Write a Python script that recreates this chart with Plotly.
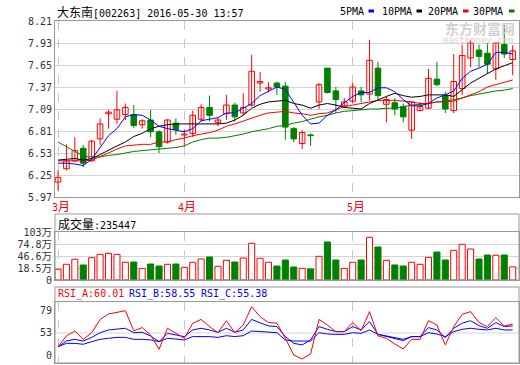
import plotly.graph_objects as go

# ---------------- data ----------------
opens  = [6.16,6.33,6.43,6.59,6.43,6.71,7.03,6.96,7.02,7.02,6.89,6.95,6.80,6.67,6.91,6.76,6.78,6.96,7.11,6.92,
          7.03,7.14,7.04,7.14,7.42,7.345,7.42,7.38,6.84,6.65,6.76,7.18,7.61,7.32,7.13,7.19,7.32,7.28,7.61,7.15,
          7.17,7.12,6.82,7.07,7.10,7.47,7.26,7.07,7.35,7.74,7.84,7.80,7.60,7.91,7.72]
highs  = [6.31,6.64,6.73,6.63,6.70,6.97,7.08,7.32,7.16,7.14,6.96,7.08,6.82,6.96,6.97,6.83,7.07,7.15,7.26,6.98,
          7.27,7.17,7.29,7.78,7.56,7.43,7.44,7.43,6.86,6.82,6.78,7.42,7.61,7.37,7.23,7.42,7.37,7.97,7.69,7.25,
          7.23,7.16,7.18,7.18,7.60,7.69,7.31,7.79,7.91,7.97,7.91,7.93,7.93,8.16,7.90]
lows   = [6.05,6.31,6.42,6.35,6.42,6.63,6.84,6.90,6.95,6.85,6.84,6.73,6.53,6.65,6.76,6.61,6.73,6.93,6.93,6.87,
          6.95,6.93,7.01,7.12,7.31,7.30,7.27,6.70,6.67,6.58,6.62,7.09,7.29,7.04,7.10,7.16,7.18,7.20,7.20,6.92,
          7.01,6.92,6.71,7.06,7.09,7.38,7.04,7.04,7.27,7.62,7.62,7.54,7.46,7.74,7.52]
closes = [6.22,6.43,6.56,6.40,6.68,6.90,7.05,7.08,7.11,6.88,6.94,6.80,6.61,6.95,6.83,6.77,7.01,7.11,7.01,6.95,
          7.14,6.99,7.11,7.57,7.44,7.36,7.37,6.86,6.71,6.79,6.75,7.40,7.30,7.21,7.18,7.37,7.27,7.71,7.26,7.21,
          7.09,6.99,7.18,7.12,7.48,7.40,7.09,7.44,7.77,7.93,7.76,7.66,7.93,7.79,7.83]

ma5  = [6.40,6.40,6.39,6.37,6.45,6.60,6.75,6.84,6.99,7.02,7.01,6.95,6.87,6.84,6.82,6.80,6.84,6.94,6.96,6.98,
        7.04,7.04,7.10,7.16,7.26,7.32,7.37,7.34,7.18,7.01,6.90,6.91,7.01,7.08,7.17,7.25,7.30,7.30,7.36,7.36,
        7.31,7.21,7.13,7.13,7.16,7.23,7.27,7.32,7.48,7.57,7.61,7.66,7.81,7.81,7.79]
ma10 = [6.44,6.45,6.46,6.44,6.46,6.51,6.57,6.62,6.67,6.74,6.78,6.84,6.87,6.89,6.90,6.90,6.90,6.90,6.90,6.90,
        6.91,6.95,7.01,7.10,7.15,7.18,7.19,7.20,7.16,7.14,7.10,7.14,7.16,7.14,7.11,7.10,7.09,7.16,7.21,7.25,
        7.29,7.26,7.24,7.25,7.27,7.27,7.27,7.25,7.33,7.42,7.48,7.54,7.60,7.64,7.68]
ma20 = [6.43,6.43,6.43,6.43,6.44,6.48,6.53,6.58,6.62,6.63,6.64,6.64,6.67,6.67,6.70,6.72,6.75,6.77,6.79,6.82,
        6.87,6.90,6.94,6.98,7.01,7.04,7.05,7.06,7.04,7.03,7.01,7.03,7.04,7.08,7.12,7.14,7.16,7.18,7.20,7.20,
        7.20,7.19,7.18,7.16,7.16,7.18,7.18,7.19,7.23,7.27,7.31,7.37,7.40,7.43,7.46]
ma30 = [6.67,6.61,6.55,6.49,6.48,6.48,6.50,6.51,6.53,6.55,6.56,6.57,6.58,6.59,6.60,6.62,6.67,6.70,6.72,6.72,
        6.73,6.75,6.77,6.80,6.82,6.84,6.87,6.88,6.91,6.93,6.96,6.99,7.01,7.04,7.06,7.07,7.08,7.09,7.09,7.10,
        7.10,7.12,7.14,7.15,7.16,7.18,7.19,7.21,7.23,7.26,7.28,7.30,7.32,7.33,7.35]

# volume in 万 (10k shares)
volumes = [17.8,29.4,41.0,27.8,44.8,52.5,54.9,52.5,34.1,34.7,20.0,30.1,25.4,29.4,30.1,22.4,34.1,41.7,46.4,24.7,
           38.6,34.7,44.0,78.2,43.3,34.1,25.4,39.4,23.1,20.0,18.5,47.9,81.2,39.4,20.0,34.1,39.4,92.2,69.6,38.6,
           27.8,25.4,34.1,29.4,45.6,57.9,39.4,61.9,75.9,65.0,41.7,51.0,50.3,51.0,23.5447]

rsi_a = [42.5,50.8,54.6,48.2,53.3,63.5,67.7,68.7,70.2,54.8,57.2,51.5,40.5,56.7,52.8,49.0,60.5,63.5,58.0,53.3,
         62.5,53.3,59.2,73.3,65.6,61.1,60.6,49.0,36.2,33.1,37.0,63.5,59.2,54.1,54.1,61.1,54.8,69.5,50.8,49.0,
         44.6,40.8,48.2,48.2,62.5,59.2,43.9,58.0,67.4,69.5,61.1,58.0,64.9,58.4,60.01]
rsi_b = [42.5,46.9,48.2,46.9,49.7,53.3,55.4,56.1,56.7,53.3,53.6,50.8,46.4,52.8,51.5,50.3,55.4,56.7,55.4,53.6,
         56.7,53.6,55.4,63.5,60.9,58.5,58.0,50.3,45.1,43.9,47.7,58.0,55.9,54.1,54.1,58.0,55.4,61.8,52.0,50.3,
         49.0,47.2,50.3,50.3,57.2,55.4,49.5,56.7,60.6,62.5,58.7,56.7,61.1,58.0,58.55]
rsi_c = [42.5,45.1,45.1,44.4,46.4,48.2,49.0,49.7,49.7,48.2,48.2,47.7,46.4,49.0,48.4,47.7,50.3,50.3,50.3,49.7,
         51.0,50.3,51.0,54.6,54.1,53.3,53.3,47.7,46.9,46.9,46.9,53.3,52.3,52.0,52.0,53.3,52.8,55.4,52.0,50.8,
         49.7,48.2,50.3,50.3,53.3,52.3,50.3,54.1,55.9,56.7,55.9,55.4,56.7,55.4,55.38]

price_ticks = [5.97, 6.25, 6.53, 6.81, 7.09, 7.37, 7.65, 7.93, 8.21]
vol_floor = -7.1            # bottom edge of the volume panel (labelled "0")
vol_top = 104.5
vol_ticks = [vol_floor, 18.5, 46.6, 74.8, 103]
vol_tick_text = ["0", "18.5万", "46.6万", "74.8万", "103万"]
rsi_tick_vals = [35.39, 53.07, 70.75]
rsi_tick_text = ["0", "53", "79"]
month_idx = [0, 15, 35]
month_labels = ["3月", "4月", "5月"]
title_text = "大东南[002263] 2016-05-30 13:57"
legend_names = ["5PMA", "10PMA", "20PMA", "30PMA"]

# ---------------- styles ----------------
RED = "#ff0000"; GREEN = "#008000"; BLUE = "#0000ff"; BLACK = "#000000"
GRID = "#d4d4d4"; BORDER = "#999999"
MONO = "DejaVu Sans Mono, Noto Sans CJK SC"
CJK = "Noto Sans CJK SC"

n = len(closes)
xs = list(range(n))
up = [closes[i] >= opens[i] for i in xs]

fig = go.Figure()

# wicks
for flag, col in [(True, RED), (False, GREEN)]:
    wx, wy = [], []
    for i in xs:
        if up[i] == flag:
            wx += [i, i, None]
            wy += [lows[i], highs[i], None]
    fig.add_trace(go.Scatter(x=wx, y=wy, mode="lines", line=dict(color=col, width=1),
                             hoverinfo="skip", xaxis="x", yaxis="y"))

# bodies
for flag, fill, col in [(True, "#ffffff", RED), (False, GREEN, GREEN)]:
    bx = [i for i in xs if up[i] == flag]
    base = [min(opens[i], closes[i]) for i in bx]
    h = [max(abs(closes[i] - opens[i]), 0.006) for i in bx]
    fig.add_trace(go.Bar(x=bx, y=h, base=base, width=0.66, marker=dict(color=fill, line=dict(color=col, width=1)),
                         xaxis="x", yaxis="y"))

# moving averages
for arr, col in [(ma30, GREEN), (ma20, RED), (ma10, BLACK), (ma5, BLUE)]:
    fig.add_trace(go.Scatter(x=xs, y=arr, mode="lines", line=dict(color=col, width=1), xaxis="x", yaxis="y"))

# volume (bars drawn up from the panel floor)
for flag, fill, col in [(True, "#ffffff", RED), (False, GREEN, GREEN)]:
    bx = [i for i in xs if up[i] == flag]
    fig.add_trace(go.Bar(x=bx, y=[volumes[i] - vol_floor for i in bx], base=[vol_floor] * len(bx), width=0.72,
                         marker=dict(color=fill, line=dict(color=col, width=1)), xaxis="x2", yaxis="y2"))

# RSI
for arr, col in [(rsi_c, BLUE), (rsi_b, BLUE), (rsi_a, RED)]:
    fig.add_trace(go.Scatter(x=xs, y=arr, mode="lines", line=dict(color=col, width=1), xaxis="x3", yaxis="y3"))

H = 342.0
def py(px):
    return (363 - px) / H
def pxx(px):
    return (px - 55) / 464.0

xr = [-0.356, 54.75]
xcommon = dict(range=xr, showticklabels=False, ticks="", tickvals=month_idx, showgrid=True,
               gridcolor="#c8c8c8", griddash="dash", gridwidth=1, zeroline=False, automargin=False,
               showline=True, mirror=True, linecolor=BORDER, linewidth=1, fixedrange=True)
tickfont = dict(family=MONO, size=10, color="#333333")

fig.update_layout(
    width=520, height=365, margin=dict(l=55, r=1, t=21, b=2, autoexpand=False),
    paper_bgcolor="white", plot_bgcolor="white", showlegend=False, barmode="overlay",
    xaxis=dict(domain=[0, 1], anchor="y", **xcommon),
    xaxis2=dict(domain=[0, 1], anchor="y2", **xcommon),
    xaxis3=dict(domain=[0, 1], anchor="y3", **xcommon),
    yaxis=dict(domain=[py(197), 1.0], range=[5.97, 8.21], tickvals=price_ticks,
               ticktext=[f"{v:.2f}" for v in price_ticks], tickfont=tickfont, ticks="", automargin=False,
               showgrid=True, gridcolor=GRID, zeroline=False,
               showline=True, mirror=True, linecolor=BORDER, fixedrange=True),
    yaxis2=dict(domain=[py(280), py(232)], range=[vol_floor, vol_top], tickvals=vol_ticks,
                ticktext=[t.replace("万", "<span style='font-family:Noto Sans CJK SC;font-size:10.5px'>万</span>") for t in vol_tick_text],
                tickfont=tickfont, ticks="", showgrid=True, gridcolor=GRID, zeroline=False, automargin=False,
                showline=True, mirror=True, linecolor=BORDER, fixedrange=True),
    yaxis3=dict(domain=[0, py(301.7)], range=[30.0, 77.13], tickvals=rsi_tick_vals, ticktext=rsi_tick_text,
                tickfont=tickfont, ticks="", showgrid=False, zeroline=False, automargin=False,
                showline=True, mirror=True, linecolor=BORDER, fixedrange=True),
)

shapes = [
    dict(type="rect", xref="paper", yref="paper", x0=0, x1=1, y0=py(280), y1=py(214),
         line=dict(color=BORDER, width=1), fillcolor="rgba(0,0,0,0)"),
    dict(type="rect", xref="paper", yref="paper", x0=0, x1=1, y0=0, y1=py(287),
         line=dict(color=BORDER, width=1), fillcolor="rgba(0,0,0,0)"),
    dict(type="line", xref="x3 domain", yref="y3", x0=0, x1=1, y0=53.07, y1=53.07,
         line=dict(color=GRID, width=1), layer="below"),
]

def cjk(s, size=12):
    return f"<span style='font-family:{CJK};font-size:{size}px'>{s}</span>"

ann = []
# watermark (first, so it sits beneath everything else)
ann.append(dict(text="<b>东方财富网</b>", xref="paper", yref="paper", x=pxx(517), y=py(28.5), xanchor="right",
                yanchor="middle", showarrow=False, font=dict(family=CJK, size=14, color="#d2d2d2")))
ann.append(dict(text="eastmoney.com", xref="paper", yref="paper", x=pxx(515), y=py(40.5), xanchor="right",
                yanchor="middle", showarrow=False, font=dict(family=MONO, size=9, color="#d2d2d2")))

ann.append(dict(text=cjk("大东南") + title_text[3:], xref="paper", yref="paper", x=pxx(55), y=py(11),
                xanchor="left", yanchor="middle", showarrow=False, font=dict(family=MONO, size=10, color="black")))

# legend: labels + colored dashes
leg_text_x = [337.5, 379.5, 425.5, 470.5]
leg_dash_x = [368.5, 416.5, 463, 509]
leg_cols = [BLUE, BLACK, RED, GREEN]
for name, tx, dx, col in zip(legend_names, leg_text_x, leg_dash_x, leg_cols):
    ann.append(dict(text=name, xref="paper", yref="paper", x=pxx(tx), y=py(11), xanchor="left",
                    yanchor="middle", showarrow=False, font=dict(family=MONO, size=10, color="black")))
    shapes.append(dict(type="rect", xref="paper", yref="paper", x0=pxx(dx), x1=pxx(dx + 5.5),
                       y0=py(12.5), y1=py(9.5), line=dict(width=0), fillcolor=col))

for mi, ml in zip(month_idx, month_labels):
    ann.append(dict(text=ml[0] + cjk(ml[1]), xref="x", yref="paper", x=mi, y=py(205.5), xanchor="center",
                    yanchor="middle", xshift=3, showarrow=False, font=dict(family=MONO, size=10, color=RED)))
ann.append(dict(text=cjk("成交量") + f":{round(volumes[-1] * 10000)}", xref="paper", yref="paper",
                x=pxx(56), y=py(223), xanchor="left", yanchor="middle", showarrow=False,
                font=dict(family=MONO, size=10, color="black")))
for label, arr, col, xp in [("RSI_A", rsi_a, RED, 56), ("RSI_B", rsi_b, BLUE, 127), ("RSI_C", rsi_c, BLUE, 199)]:
    ann.append(dict(text=f"{label}:{arr[-1]:.2f}", xref="paper", yref="paper", x=pxx(xp), y=py(294),
                    xanchor="left", yanchor="middle", showarrow=False, font=dict(family=MONO, size=10, color=col)))
fig.update_layout(annotations=ann, shapes=shapes)

fig.write_html("out.html", config={"displayModeBar": False},
               post_script="document.body.style.margin='0px';document.body.style.padding='0px';")
